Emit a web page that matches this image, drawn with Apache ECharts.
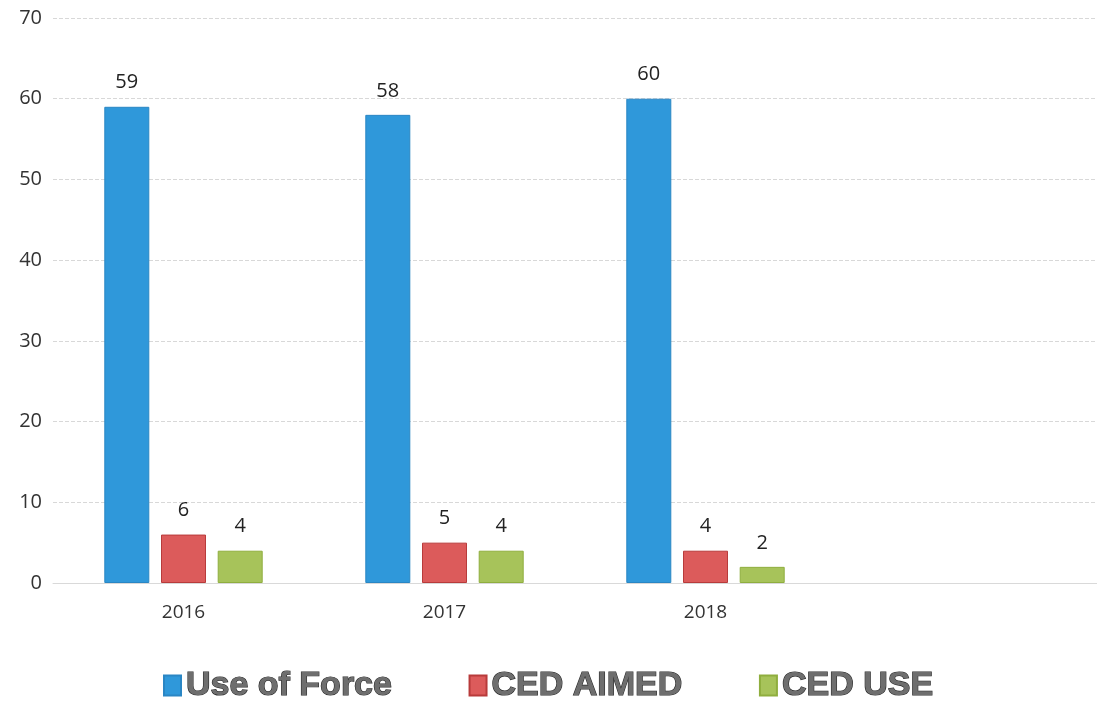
<!DOCTYPE html>
<html>
<head>
<meta charset="utf-8">
<script src="https://cdn.jsdelivr.net/npm/echarts@6/dist/echarts.min.js"></script>
<style>
  html, body { margin: 0; padding: 0; background: #ffffff; }
  #chart { width: 1097px; height: 703px; }
</style>
</head>
<body>
<div id="chart"></div>
<script>
// Yearly counts; the trailing empty slot leaves room on the right of the plot.
const years = ['2016', '2017', '2018', ''];
const useOfForce = [59, 58, 60, null];
const cedAimed = [6, 5, 4, null];
const cedUse = [4, 4, 2, null];
const yTicks = { min: 0, max: 70, interval: 10 };

const colors = {
  force: '#2f98da',
  aimed: '#dc5b5b',
  use: '#a7c35a'
};

const labelStyle = {
  show: true,
  position: 'top',
  distance: 14,
  fontFamily: 'Open Sans',
  fontSize: 20,
  color: '#222'
};

function barSeries(name, data, color, border) {
  return {
    name: name,
    type: 'bar',
    data: data,
    barWidth: 45,
    barGap: '26%',
    itemStyle: { color: color, borderColor: border, borderWidth: 1 },
    label: labelStyle
  };
}

const chart = echarts.init(document.getElementById('chart'));
chart.setOption({
  backgroundColor: '#ffffff',
  animation: false,
  grid: { left: 53, top: 18, bottom: 120, width: 1052 },
  legend: {
    top: 663,
    left: 158,
    itemWidth: 17,
    itemHeight: 20,
    itemGap: 76,
    icon: 'rect',
    textStyle: {
      fontFamily: 'Liberation Sans',
      fontWeight: 'bold',
      fontSize: 34,
      color: '#6e6e6e',
      textBorderColor: '#2a2a2a',
      textBorderWidth: 1.2
    },
    data: ['Use of Force', 'CED AIMED', 'CED USE']
  },
  xAxis: {
    type: 'category',
    data: years,
    axisLine: { show: true, lineStyle: { color: '#d9d9d9' } },
    axisTick: { show: false },
    axisLabel: {
      margin: 20,
      fontFamily: 'Open Sans',
      fontSize: 19,
      color: '#333'
    }
  },
  yAxis: {
    type: 'value',
    min: yTicks.min,
    max: yTicks.max,
    interval: yTicks.interval,
    axisLine: { show: false },
    axisTick: { show: false },
    axisLabel: {
      margin: 11,
      fontFamily: 'Open Sans',
      fontSize: 20,
      color: '#333'
    },
    splitLine: { lineStyle: { color: '#d8d8d8', type: 'dashed', width: 1 } }
  },
  series: [
    barSeries('Use of Force', useOfForce, colors.force, '#2a86c4'),
    barSeries('CED AIMED', cedAimed, colors.aimed, '#b83b3b'),
    barSeries('CED USE', cedUse, colors.use, '#8fae3e')
  ]
});
</script>
</body>
</html>
